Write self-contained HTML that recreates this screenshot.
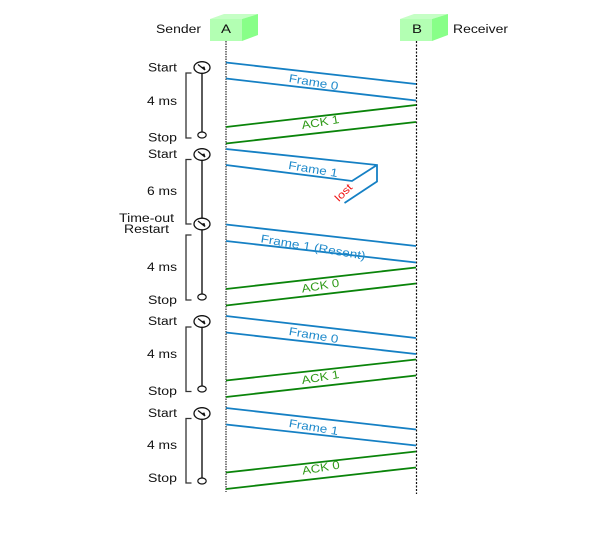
<!DOCTYPE html>
<html><head><meta charset="utf-8"><style>
html,body{margin:0;padding:0;background:#fff;width:600px;height:535px;overflow:hidden}
svg{display:block}
text{font-family:"Liberation Sans",sans-serif;font-size:11.5px;fill:#111}
.b{stroke:#1580c4;stroke-width:1.8;fill:none}
.g{stroke:#0a840a;stroke-width:1.8;fill:none}
.k{stroke:#333;stroke-width:1.3;fill:none}
.t{fill:#1f8acb}
.a{fill:#2f9a18}
</style></head><body>
<svg width="600" height="535" viewBox="0 0 600 535" xmlns="http://www.w3.org/2000/svg">
<defs>
<g id="clock"><ellipse rx="8" ry="5.8" fill="#fff" stroke="#111" stroke-width="1.3"/><path d="M-4-3L3 2.5" stroke="#111" stroke-width="1.3"/><path d="M-1-1.5L1.5-2 2.5 1.5Z" fill="#111" transform="translate(1 1)"/></g>
</defs>
<!-- boxes -->
<polygon points="210,19 224,14 258,14 242,19" fill="#c5ffc5"/>
<polygon points="242,19 258,14 258,35 242,41" fill="#88ff88"/>
<rect x="210" y="19" width="32" height="22" fill="#b3ffb3"/>
<polygon points="400,19 414,14 448,14 432,19" fill="#c5ffc5"/>
<polygon points="432,19 448,14 448,35 432,41" fill="#88ff88"/>
<rect x="400" y="19" width="32" height="22" fill="#b3ffb3"/>
<!-- lifelines -->
<path d="M226 41V492" stroke="#555" stroke-width="1.5" stroke-dasharray="1.5 1"/>
<path d="M416.5 41V494" stroke="#111" stroke-width="1.2" stroke-dasharray="2 1.5"/>
<!-- arrows -->
<path class="b" d="M226 62.5L416 84M226 78.5L416 100.5"/>
<path class="g" d="M226 127L416 105M226 143.5L416 122"/>
<path class="b" d="M226 149L377 165V181.5L344.5 203M226 165L352 181L377 165"/>
<path class="b" d="M226 224.5L416 246M226 241L416 262.5"/>
<path class="g" d="M226 289L416 267.5M226 305.5L416 283.5"/>
<path class="b" d="M226 316L416 338M226 332.5L416 354"/>
<path class="g" d="M226 380.5L416 359.5M226 397L416 375.5"/>
<path class="b" d="M226 408L416 429.5M226 424.5L416 445.5"/>
<path class="g" d="M226 472.5L416 451.5M226 489L416 467.5"/>
<!-- timers -->
<path d="M202 67V132M202 154V294M202 321V386M202 413V478" stroke="#333" stroke-width="1.6"/>
<path class="k" d="M191.5 73H186V138H191.5M191.5 159.5H186V224H191.5M191.5 235H186V300H191.5M191.5 327H186V391.5H191.5M191.5 418.5H186V483H191.5"/>
<use href="#clock" x="202" y="67.5"/>
<use href="#clock" x="202" y="154.5"/>
<use href="#clock" x="202" y="224"/>
<use href="#clock" x="202" y="321.5"/>
<use href="#clock" x="202" y="413.5"/>
<g fill="#fff" stroke="#111" stroke-width="1.2">
<ellipse cx="202" cy="135" rx="4.2" ry="3"/>
<ellipse cx="202" cy="297" rx="4.2" ry="3"/>
<ellipse cx="202" cy="389" rx="4.2" ry="3"/>
<ellipse cx="202" cy="481" rx="4.2" ry="3"/>
</g>
<!-- labels -->
<text x="156" y="33" textLength="45" lengthAdjust="spacingAndGlyphs">Sender</text>
<text x="221" y="33" textLength="10" lengthAdjust="spacingAndGlyphs">A</text>
<text x="412" y="33" textLength="10" lengthAdjust="spacingAndGlyphs">B</text>
<text x="453" y="33" textLength="55" lengthAdjust="spacingAndGlyphs">Receiver</text>
<g>
<text x="148" y="71.5" textLength="29" lengthAdjust="spacingAndGlyphs">Start</text>
<text x="147" y="105" textLength="30" lengthAdjust="spacingAndGlyphs">4 ms</text>
<text x="148" y="141.5" textLength="29" lengthAdjust="spacingAndGlyphs">Stop</text>
<text x="148" y="158" textLength="29" lengthAdjust="spacingAndGlyphs">Start</text>
<text x="147" y="195" textLength="30" lengthAdjust="spacingAndGlyphs">6 ms</text>
<text x="119" y="222" textLength="55" lengthAdjust="spacingAndGlyphs">Time-out</text>
<text x="124" y="233" textLength="45" lengthAdjust="spacingAndGlyphs">Restart</text>
<text x="147" y="271" textLength="30" lengthAdjust="spacingAndGlyphs">4 ms</text>
<text x="148" y="304" textLength="29" lengthAdjust="spacingAndGlyphs">Stop</text>
<text x="148" y="325" textLength="29" lengthAdjust="spacingAndGlyphs">Start</text>
<text x="147" y="358" textLength="30" lengthAdjust="spacingAndGlyphs">4 ms</text>
<text x="148" y="395" textLength="29" lengthAdjust="spacingAndGlyphs">Stop</text>
<text x="148" y="417" textLength="29" lengthAdjust="spacingAndGlyphs">Start</text>
<text x="147" y="449" textLength="30" lengthAdjust="spacingAndGlyphs">4 ms</text>
<text x="148" y="482" textLength="29" lengthAdjust="spacingAndGlyphs">Stop</text>
</g>
<g text-anchor="middle">
<text class="t" transform="translate(313 86) rotate(9.5)" textLength="50" lengthAdjust="spacingAndGlyphs">Frame 0</text>
<text class="a" transform="translate(321 126) rotate(-9.5)" textLength="38" lengthAdjust="spacingAndGlyphs">ACK 1</text>
<text class="t" transform="translate(312.5 173) rotate(9.5)" textLength="50" lengthAdjust="spacingAndGlyphs">Frame 1</text>
<text transform="translate(346 195) rotate(-45)" style="fill:#f01010;font-size:10.5px" textLength="20" lengthAdjust="spacingAndGlyphs">lost</text>
<text class="t" transform="translate(312.5 251) rotate(9.5)" textLength="106" lengthAdjust="spacingAndGlyphs">Frame 1 (Resent)</text>
<text class="a" transform="translate(321 289.5) rotate(-9.5)" textLength="38" lengthAdjust="spacingAndGlyphs">ACK 0</text>
<text class="t" transform="translate(313 339) rotate(9.5)" textLength="50" lengthAdjust="spacingAndGlyphs">Frame 0</text>
<text class="a" transform="translate(321 381) rotate(-9.5)" textLength="38" lengthAdjust="spacingAndGlyphs">ACK 1</text>
<text class="t" transform="translate(313 431) rotate(9.5)" textLength="50" lengthAdjust="spacingAndGlyphs">Frame 1</text>
<text class="a" transform="translate(321.5 471.5) rotate(-9.5)" textLength="38" lengthAdjust="spacingAndGlyphs">ACK 0</text>
</g>
</svg>
</body></html>
